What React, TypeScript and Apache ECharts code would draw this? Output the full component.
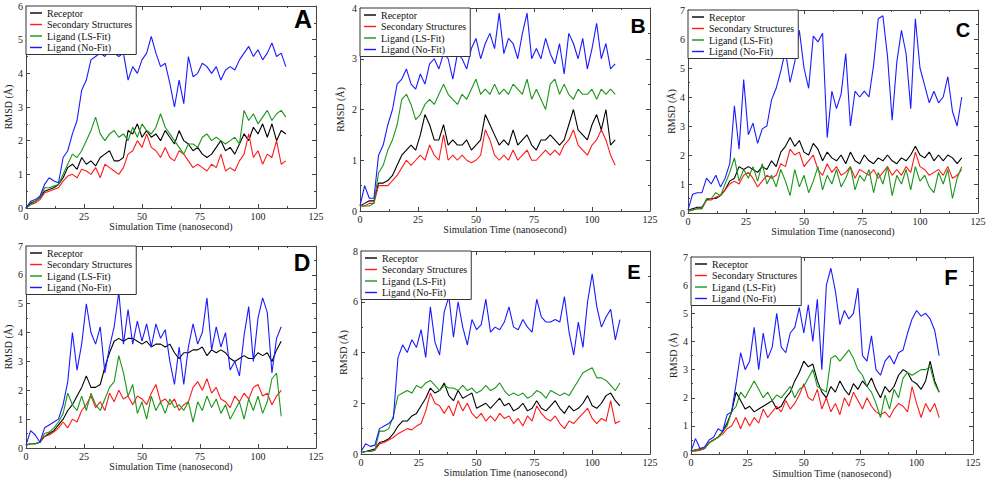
import React, { useEffect, useRef } from "react";
import * as echarts from "echarts";

// sampling times (ns)
const TIME_NS = [0,2,4,6,8,10,12,14,16,18,20,22,24,26,28,30,32,34,36,38,40,42,44,46,48,50,52,54,56,58,60,62,64,66,68,70,72,74,76,78,80,82,84,86,88,90,92,94,96,98,100,102,104,106,108,110,112,114,116,118];

const SERIES_NAMES = ["Receptor", "Secondary Structures", "Ligand (LS-Fit)", "Ligand (No-Fit)"];
const SERIES_COLORS = ["#000000", "#ff1a1a", "#1a961a", "#1a1aff"];

// Panel A
const A_receptor = [0,0.15,0.2,0.3,0.5,0.55,0.6,0.7,0.9,1.2,1.3,1.15,1.5,1.3,1.4,1.25,1.5,1.6,1.7,1.4,1.4,1.5,2.3,2.2,2.5,2.1,2.3,2.1,2.2,2.0,2.3,2.1,1.9,2.3,2.0,1.9,1.7,1.8,1.6,1.5,1.6,1.8,2.0,1.7,1.8,1.6,1.9,2.2,2.0,2.4,2.2,2.5,2.1,2.5,2.0,2.3,2.2];
const A_secondary = [0,0.1,0.15,0.25,0.45,0.5,0.55,0.6,0.8,0.95,1.0,0.9,1.15,1.1,1.0,1.2,0.9,1.3,1.2,1.1,1.0,1.2,1.6,1.7,2.0,1.8,2.2,1.8,1.7,1.5,1.8,1.5,1.4,1.7,1.6,1.4,1.2,1.3,1.2,1.1,1.3,1.2,1.6,1.1,1.2,1.1,1.4,1.6,2.2,1.5,1.7,1.3,1.6,1.5,2.0,1.3,1.4];
const A_lsfit = [0,0.1,0.2,0.3,0.6,0.6,0.65,0.7,1.0,1.3,1.6,1.5,1.7,2.0,2.3,2.7,2.2,2.0,2.2,2.3,2.1,2.2,2.0,2.4,2.1,2.5,2.3,2.2,2.4,2.8,2.4,2.2,2.0,1.8,1.6,1.9,1.9,1.8,2.1,2.2,2.0,2.1,2.0,1.9,2.0,2.1,1.9,2.9,2.6,2.8,2.5,2.7,2.9,2.6,2.8,2.9,2.7];
const A_nofit = [0,0.2,0.25,0.35,0.7,0.9,0.8,0.75,1.5,1.7,2.2,2.6,3.5,3.8,4.4,4.5,4.6,4.5,4.7,4.6,4.5,4.6,3.8,4.2,4.0,4.4,4.6,5.1,4.6,4.2,4.3,3.7,3.0,3.8,3.1,4.5,3.9,4.0,4.3,4.2,4.0,4.2,3.8,4.1,4.2,4.1,4.4,4.6,4.8,4.5,4.7,4.4,4.6,4.9,4.5,4.6,4.2];

// Panel B
const B_receptor = [0.1,0.15,0.2,0.2,0.55,0.55,0.6,0.7,0.9,1.1,1.2,1.3,1.2,1.5,1.9,1.7,1.4,1.4,1.7,1.3,1.4,1.3,1.3,1.4,1.2,1.3,1.4,1.9,1.7,1.5,1.3,1.4,1.3,1.6,1.3,1.4,1.5,1.3,1.2,1.4,1.4,1.5,1.4,1.3,1.4,1.7,2.0,1.6,1.5,1.4,1.7,1.9,1.6,2.0,1.3,1.4];
const B_secondary = [0.1,0.1,0.15,0.15,0.5,0.5,0.5,0.6,0.7,0.85,1.0,0.9,1.0,1.1,1.0,1.3,1.1,1.0,1.5,1.0,1.1,1.0,1.1,1.0,0.95,1.0,1.1,1.6,1.4,1.1,1.0,1.1,1.0,1.2,1.0,1.1,1.2,1.0,1.0,1.1,1.2,1.1,1.2,1.1,1.3,1.4,1.6,1.3,1.2,1.1,1.3,1.4,1.6,1.4,1.1,0.9];
const B_lsfit = [0.1,0.1,0.1,0.15,0.75,0.9,1.2,1.4,1.7,2.2,2.3,2.1,1.8,1.9,2.1,2.2,2.1,2.3,2.5,2.3,2.2,2.1,2.3,2.2,2.4,2.6,2.3,2.4,2.3,2.5,2.3,2.4,2.3,2.5,2.4,2.3,2.6,2.2,2.4,2.2,2.0,2.5,2.6,2.3,2.5,2.3,2.2,2.4,2.3,2.3,2.4,2.2,2.4,2.3,2.4,2.3];
const B_nofit = [0.1,0.5,0.25,0.25,1.1,1.3,1.7,2.0,2.5,2.6,2.8,2.5,2.4,2.7,2.5,2.9,3.0,2.8,3.1,3.0,2.6,3.1,3.0,2.8,3.2,3.4,3.0,3.3,3.5,3.2,3.9,3.1,3.4,3.3,3.0,3.5,3.9,3.0,3.2,3.0,3.4,3.1,2.9,3.3,2.7,3.5,3.3,3.0,3.4,2.8,3.2,3.7,3.0,3.3,2.8,2.9];

// Panel C
const C_receptor = [0.1,0.15,0.2,0.2,0.45,0.5,0.5,0.6,0.8,1.1,1.2,1.6,1.5,1.6,1.5,1.4,1.6,1.5,1.8,1.6,2.1,2.3,2.6,2.3,2.5,2.1,2.0,2.4,2.2,1.8,2.1,1.9,1.8,2.0,1.7,2.1,1.8,1.7,2.0,1.8,1.7,1.9,1.8,2.0,1.8,1.7,1.9,1.8,2.0,2.3,2.0,1.9,2.1,1.8,2.0,1.8,2.0,1.9,1.7,1.9];
const C_secondary = [0.05,0.1,0.15,0.15,0.45,0.45,0.55,0.6,0.8,1.0,1.1,1.0,1.3,1.4,1.2,0.9,1.1,1.3,1.2,1.3,1.7,1.6,2.2,2.0,2.1,1.6,1.8,2.0,1.5,1.3,1.7,1.4,1.6,1.3,1.4,1.6,1.2,1.5,1.4,1.3,1.5,1.2,1.4,1.6,1.3,1.5,1.3,1.6,1.4,2.1,1.6,1.5,1.3,1.4,1.5,1.3,1.6,1.2,1.3,1.5];
const C_lsfit = [0.1,0.1,0.15,0.15,0.5,0.5,0.7,0.6,1.0,1.4,1.9,1.1,1.5,1.2,1.6,1.1,1.7,1.0,1.3,0.9,1.5,1.1,0.6,1.5,0.9,1.3,0.7,1.1,1.6,0.8,1.3,1.0,1.5,0.9,1.2,1.6,0.8,1.3,1.1,1.5,0.7,1.4,1.0,1.6,0.6,1.3,1.0,1.5,0.8,1.6,1.1,1.3,0.9,0.7,1.4,1.0,1.5,0.5,1.2,1.6];
const C_nofit = [0.1,0.65,0.7,0.7,1.2,1.0,1.3,0.9,1.2,1.7,3.7,2.2,4.6,2.7,3.1,2.4,2.9,3.0,3.9,4.3,4.9,5.6,4.5,5.2,6.3,5.0,4.3,6.1,5.9,6.2,2.6,4.2,3.6,4.1,5.5,3.0,4.2,4.0,4.2,4.0,5.1,6.7,6.8,5.4,3.2,5.2,6.3,5.5,3.6,6.7,5.0,4.4,3.8,4.2,3.8,4.0,4.7,3.5,3.0,4.0];

// Panel D
const D_receptor = [0.1,0.15,0.15,0.2,0.4,0.5,0.6,0.8,1.0,1.3,1.5,1.8,2.1,2.5,2.1,2.1,2.2,2.8,3.3,3.7,3.8,3.7,3.8,3.8,3.7,3.6,3.7,3.5,3.6,3.6,3.5,3.6,3.3,3.1,3.3,3.3,3.4,3.4,3.5,3.2,3.4,3.3,3.4,3.3,3.1,3.0,3.1,3.2,3.1,3.1,3.3,3.2,3.3,3.0,3.4,3.7];
const D_secondary = [0.1,0.15,0.15,0.2,0.4,0.45,0.55,0.7,0.9,0.7,1.0,0.9,1.3,1.5,1.8,1.4,1.6,1.3,1.9,1.6,2.0,1.7,1.8,1.5,1.8,1.7,1.5,1.9,2.2,1.6,1.7,1.5,1.7,1.3,1.5,1.6,2.1,2.3,2.0,2.4,1.9,2.1,1.7,1.6,1.4,1.8,1.6,1.9,1.7,2.1,2.2,1.8,1.9,1.5,1.8,2.0];
const D_lsfit = [0.1,0.15,0.15,0.2,0.5,0.55,0.7,0.9,1.2,1.9,1.5,1.3,1.8,1.3,1.9,1.5,1.3,1.7,2.1,2.3,3.2,2.6,1.8,2.2,1.2,1.6,1.0,1.8,1.3,1.6,1.2,1.7,1.4,1.5,1.3,1.6,0.9,1.6,1.3,1.8,1.4,1.7,1.2,1.5,1.0,1.3,1.6,1.0,1.7,1.3,1.8,1.2,1.6,2.4,2.6,1.1];
const D_nofit = [0.1,0.6,0.45,0.2,0.7,0.8,0.9,1.0,1.5,2.3,4.0,2.7,3.6,5.0,4.0,3.6,4.2,2.6,3.5,4.2,5.4,3.6,4.8,3.6,4.4,3.7,4.3,3.5,4.3,3.8,4.1,3.0,2.2,3.5,2.2,3.5,4.3,3.6,4.0,5.2,3.4,4.2,3.5,4.0,2.7,3.0,2.5,3.9,4.9,3.0,4.5,5.2,4.7,2.6,3.8,4.2];

// Panel E
const E_receptor = [0.05,0.1,0.15,0.2,0.45,0.5,0.6,0.8,1.1,1.3,1.3,1.5,1.6,1.9,2.2,2.6,2.4,2.5,2.8,2.3,2.1,2.5,2.2,2.3,2.4,1.8,1.9,2.0,1.8,2.0,2.2,1.9,2.0,1.7,1.8,2.0,1.7,1.8,2.1,1.8,1.7,1.9,2.1,1.8,1.6,1.9,1.7,1.8,2.0,2.3,1.9,1.8,2.0,2.3,2.4,2.1,1.9];
const E_secondary = [0.05,0.1,0.1,0.15,0.4,0.45,0.55,0.65,0.8,0.9,1.0,0.95,1.1,1.2,1.7,2.4,2.0,1.9,1.6,1.9,1.5,2.1,1.7,2.0,1.6,1.4,1.6,1.3,1.5,1.3,1.6,1.4,1.5,1.2,1.4,1.1,1.5,1.3,1.9,1.6,1.4,1.3,1.5,1.2,1.0,1.3,1.2,1.4,1.6,1.8,1.4,1.2,1.4,1.3,2.1,1.2,1.3];
const E_lsfit = [0.05,0.1,0.1,0.15,0.9,0.9,1.0,1.5,2.3,2.4,2.5,2.4,2.7,2.6,2.8,2.9,2.7,2.5,2.7,2.6,2.6,2.5,2.7,2.5,2.6,2.4,2.5,2.7,2.5,2.6,2.8,2.5,2.3,2.4,2.3,2.4,2.2,2.3,2.5,2.4,2.2,2.5,2.4,2.3,2.4,2.3,2.6,2.9,3.2,3.3,3.4,3.0,3.0,2.9,2.7,2.5,2.8];
const E_nofit = [0.1,0.4,0.3,0.35,1.0,1.1,1.2,1.4,3.8,4.3,4.0,4.5,4.2,4.9,3.8,5.8,4.4,3.9,5.6,6.2,4.6,6.0,5.0,4.3,5.3,4.9,5.1,6.1,4.8,5.0,4.9,5.2,5.8,5.0,4.9,5.3,5.0,4.8,6.1,5.4,5.2,5.2,5.3,5.2,6.2,4.8,3.9,5.2,4.2,6.0,7.1,5.8,5.0,5.4,5.7,4.5,5.3];

// Panel F
const F_receptor = [0.1,0.15,0.15,0.2,0.4,0.5,0.6,0.8,1.1,1.5,2.2,1.9,1.6,1.7,1.5,1.6,1.7,1.8,1.9,1.6,1.7,2.0,2.2,2.6,2.9,3.3,3.1,3.2,2.6,2.2,2.0,2.4,2.2,2.6,2.3,2.1,2.5,2.3,2.6,2.4,2.7,2.3,2.0,2.4,2.2,2.4,2.8,3.0,2.9,2.6,2.5,2.3,2.6,3.3,2.6,2.2];
const F_secondary = [0.1,0.1,0.15,0.2,0.4,0.5,0.6,0.7,0.9,1.0,1.3,0.9,1.3,1.0,1.3,1.1,1.6,1.3,1.5,1.7,1.5,1.9,1.6,1.8,2.1,2.5,2.0,1.9,2.3,1.6,2.0,1.5,1.8,1.4,2.0,1.7,2.2,1.9,1.6,2.0,1.7,1.5,1.4,1.5,1.3,1.6,1.8,1.7,1.5,2.4,1.8,1.3,1.8,1.5,1.8,1.3];
const F_lsfit = [0.1,0.15,0.2,0.2,0.4,0.5,0.6,0.8,1.0,1.5,1.7,2.2,2.0,2.3,2.6,2.3,2.0,2.2,1.9,2.1,2.0,2.2,2.4,2.0,2.3,2.4,2.7,3.0,2.4,2.3,2.2,3.4,3.5,3.3,3.5,3.7,3.4,3.0,2.8,2.4,2.2,1.8,1.3,2.1,1.6,2.3,2.0,2.7,2.9,2.8,2.9,3.0,3.0,3.1,2.5,2.2];
const F_nofit = [0.1,0.55,0.2,0.25,0.5,0.6,0.9,0.8,1.4,1.5,2.5,3.6,3.0,3.3,4.5,3.0,4.3,3.4,3.8,5.0,3.8,3.6,4.3,4.5,5.2,4.3,5.3,4.0,5.5,3.0,6.0,6.6,5.8,4.6,5.1,4.8,5.0,5.9,3.5,3.3,4.2,3.0,2.8,3.3,3.5,3.2,3.6,3.7,4.3,4.8,5.1,4.9,5.0,4.8,4.4,3.5];

const X_TITLE = "Simulation Time (nanosecond)";
const X_TITLE_F = "Simultion Time (nanosecond)";
const Y_TITLE = "RMSD (Å)";

const PANELS = [
  { letter: "A", series: [A_receptor, A_secondary, A_lsfit, A_nofit], ymax: 6, yint: 1, xTitle: X_TITLE,
    box: [26, 6, 290, 202], yGap: 13, xGap: 13, L: [303, 19, 25] },
  { letter: "B", series: [B_receptor, B_secondary, B_lsfit, B_nofit], ymax: 4, yint: 1, xTitle: X_TITLE,
    box: [360, 8, 290, 203], yGap: 15, xGap: 13, L: [638, 25, 21] },
  { letter: "C", series: [C_receptor, C_secondary, C_lsfit, C_nofit], ymax: 7, yint: 1, xTitle: X_TITLE,
    box: [688, 10, 290, 203], yGap: 11, xGap: 12, L: [963, 30, 20] },
  { letter: "D", series: [D_receptor, D_secondary, D_lsfit, D_nofit], ymax: 7, yint: 1, xTitle: X_TITLE,
    box: [26, 246, 290, 202], yGap: 13, xGap: 13, L: [302, 263, 23] },
  { letter: "E", series: [E_receptor, E_secondary, E_lsfit, E_nofit], ymax: 8, yint: 2, xTitle: X_TITLE,
    box: [361, 251, 289, 203], yGap: 13, xGap: 11, L: [634, 272, 20] },
  { letter: "F", series: [F_receptor, F_secondary, F_lsfit, F_nofit], ymax: 7, yint: 1, xTitle: X_TITLE_F,
    box: [691, 257, 282, 198], yGap: 13, xGap: 10, L: [951, 277, 22] },
];

const SERIF = '"Liberation Serif", "Times New Roman", serif';
const FRAME = "#444";
const LINE_ICON = "path://M0 0 H12 V1.4 H0 Z";

function buildOption() {
  const grid: any[] = [];
  const xAxis: any[] = [];
  const yAxis: any[] = [];
  const series: any[] = [];
  const legend: any[] = [];
  const graphic: any[] = [];

  const tick = { show: true, inside: true, length: 4, lineStyle: { color: FRAME, width: 1 } };
  const minor = { show: true, splitNumber: 2, length: 2, lineStyle: { color: FRAME, width: 1 } };
  const line = { show: true, onZero: false, lineStyle: { color: FRAME, width: 1 } };
  const label = { show: true, fontFamily: SERIF, fontSize: 10, color: "#222", margin: 3 };

  PANELS.forEach((p, i) => {
    const [left, top, width, height] = p.box;
    grid.push({ left, top, width, height, containLabel: false });
    xAxis.push({
      gridIndex: i, type: "value", min: 0, max: 125, interval: 25, position: "bottom",
      name: p.xTitle, nameLocation: "middle", nameGap: p.xGap,
      nameTextStyle: { fontFamily: SERIF, fontSize: 10, color: "#222" },
      axisLine: line, axisTick: tick, minorTick: minor, axisLabel: label,
      splitLine: { show: false }, minorSplitLine: { show: false },
    });
    xAxis.push({
      gridIndex: i, type: "value", min: 0, max: 125, interval: 25, position: "top",
      axisLine: line, axisTick: tick, minorTick: minor, axisLabel: { show: false },
      splitLine: { show: false },
    });
    yAxis.push({
      gridIndex: i, type: "value", min: 0, max: p.ymax, interval: p.yint, position: "left",
      name: Y_TITLE, nameLocation: "middle", nameGap: p.yGap,
      nameTextStyle: { fontFamily: SERIF, fontSize: 10, color: "#222" },
      axisLine: line, axisTick: tick, minorTick: minor, axisLabel: label,
      splitLine: { show: false },
    });
    yAxis.push({
      gridIndex: i, type: "value", min: 0, max: p.ymax, interval: p.yint, position: "right",
      axisLine: line, axisTick: tick, minorTick: minor, axisLabel: { show: false },
      splitLine: { show: false },
    });
    p.series.forEach((vals, k) => {
      series.push({
        type: "line", name: SERIES_NAMES[k], xAxisIndex: 2 * i, yAxisIndex: 2 * i,
        data: vals.map((v, j) => [TIME_NS[j], v]),
        symbol: "none", showSymbol: false, silent: true, clip: true,
        lineStyle: { color: SERIES_COLORS[k], width: 1.1 },
        itemStyle: { color: SERIES_COLORS[k] },
      });
    });
    legend.push({
      left, top, orient: "vertical", data: SERIES_NAMES, selectedMode: false,
      icon: LINE_ICON,
      backgroundColor: "#fff", borderColor: "#333", borderWidth: 1,
      padding: [2, 4, 2, 4], itemGap: 1.5, itemWidth: 12, itemHeight: 10,
      textStyle: { fontFamily: SERIF, fontSize: 10, color: "#111" },
      z: 10,
    });
    graphic.push({
      type: "text", x: p.L[0], y: p.L[1], z: 20,
      style: {
        text: p.letter, fill: "#000", fontFamily: '"Liberation Sans", Arial, sans-serif',
        fontWeight: "bold", fontSize: p.L[2], align: "center", verticalAlign: "middle",
      },
    });
  });

  return {
    animation: false,
    backgroundColor: "#fff",
    grid, xAxis, yAxis, series, legend, graphic,
  };
}

export default function App() {
  const ref = useRef<HTMLDivElement>(null);
  useEffect(() => {
    if (!ref.current) return;
    const chart = echarts.init(ref.current, undefined, { renderer: "svg" });
    chart.setOption(buildOption() as any);
    return () => chart.dispose();
  }, []);
  return (
    <div
      ref={ref}
      style={{ position: "fixed", left: 0, top: 0, width: 989, height: 479, background: "#fff" }}
    />
  );
}
